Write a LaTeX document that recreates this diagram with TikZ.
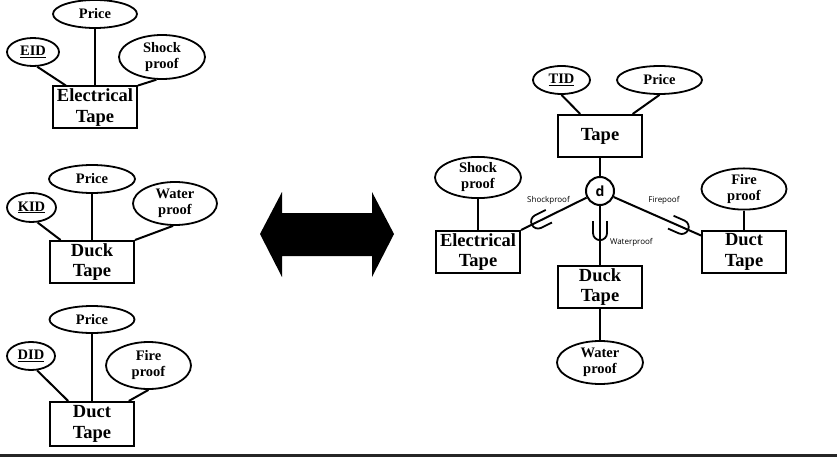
\documentclass[tikz,border=0pt]{standalone}
\usepackage{fontspec}
\setmainfont{Liberation Serif}
\newfontfamily\labelfont{Open Sans}
\usetikzlibrary{shapes.geometric,decorations.markings}

\begin{document}
\begin{tikzpicture}[x=1pt,y=-1pt,line width=2pt,every edge/.style={draw,line width=2pt}]
  \tikzstyle{entity}=[draw,rectangle,line width=2pt,minimum width=84pt,minimum height=42pt,inner sep=1pt,align=center,font=\fontsize{18.5}{20.5}\selectfont\bfseries]
  \tikzstyle{attr}=[draw,ellipse,line width=1.8pt,inner sep=0pt,align=center,font=\fontsize{14.5}{16}\selectfont\bfseries]
  \tikzstyle{rolelabel}=[font=\labelfont\fontsize{8}{9}\selectfont,inner sep=0pt]
  \tikzstyle{isa}=[postaction={decorate,decoration={markings,mark=at position #1 with {\draw[line width=1.8pt] (-12pt,7pt) -- (0pt,7pt) arc (90:-90:7pt) -- (-12pt,-7pt);}}}]

  \useasboundingbox (0,0) rectangle (837,457);

  % separate tables
  \node[entity] (e1) at (95,107.5) {Electrical\\Tape};
  \node[attr,minimum width=84pt,minimum height=28pt] (e1p) at (95,14) {Price};
  \node[attr,minimum width=52pt,minimum height=28pt] (e1k) at (33,52) {\underline{EID}};
  \node[attr,minimum width=86pt,minimum height=44pt] (e1s) at (162,57) {Shock\\proof};

  \node[entity] (e2) at (92,262) {Duck\\Tape};
  \node[attr,minimum width=86pt,minimum height=28pt] (e2p) at (92,179) {Price};
  \node[attr,minimum width=49pt,minimum height=29pt] (e2k) at (31.5,207.5) {\underline{KID}};
  \node[attr,minimum width=84pt,minimum height=43pt] (e2w) at (175,203.5) {Water\\proof};

  \node[entity,minimum height=44pt] (e3) at (92,424) {Duct\\Tape};
  \node[attr,minimum width=85pt,minimum height=27pt] (e3p) at (92,319.5) {Price};
  \node[attr,minimum width=48pt,minimum height=28pt] (e3k) at (31,356) {\underline{DID}};
  \node[attr,minimum width=85pt,minimum height=47pt] (e3f) at (148.5,365.5) {Fire\\proof};

  \path
  (e1p) edge (e1)
  (e1k.-74) edge (e1.143)
  (e1s.-104) edge (e1.north east)
  (e2p) edge (e2)
  (e2k.-68) edge (e2.145)
  (e2w.-95) edge (e2.north east)
  (e3p) edge (e3)
  (e3k.-67) edge (e3.136)
  (e3f.south) edge (e3.32);

  % double arrow
  \fill (260,234) -- (282,192) -- (282,213) -- (372,213) -- (372,192) -- (394,234)
    -- (372,277) -- (372,256) -- (282,256) -- (282,277) -- cycle;

  % generalisation
  \node[entity] (tape) at (600,136) {Tape};
  \node[attr,minimum width=57pt,minimum height=28pt] (tid) at (561.5,80) {\underline{TID}};
  \node[attr,minimum width=85pt,minimum height=28pt] (tprice) at (659.5,80) {Price};
  \node[draw,circle,minimum size=28pt,inner sep=0pt,font=\labelfont\bfseries\fontsize{14}{16}\selectfont] (d) at (600,191) {d};

  \node[entity] (et) at (478,252) {Electrical\\Tape};
  \node[attr,minimum width=86pt,minimum height=41pt] (ets) at (478,177.5) {Shock\\proof};
  \node[entity] (dk) at (600,287) {Duck\\Tape};
  \node[attr,minimum width=86pt,minimum height=43pt] (dkw) at (600,362.5) {Water\\proof};
  \node[entity] (dt) at (744,252) {Duct\\Tape};
  \node[attr,minimum width=85pt,minimum height=38pt] (dtf) at (744,189) {Fire\\proof};

  \node[rolelabel] (lshock) at (548.5,200) {Shockproof};
  \node[rolelabel] (lfire) at (664,200) {Firepoof};
  \node[rolelabel,anchor=west] (lwater) at (609,242) {Waterproof};

  \path
  (tid.south) edge (tape.132)
  (tprice.south) edge (tape.34)
  (tape) edge (d)
  (ets) edge (et)
  (dk) edge (dkw)
  (dtf) edge (dt);

  \draw[isa=0.74] (d) -- (et.north east);
  \draw[isa=0.46] (d) -- (dk);
  \draw[isa=0.78] (d) -- (dt.159);

  \fill[black!85] (0,454) rectangle (837,457);
\end{tikzpicture}
\end{document}
